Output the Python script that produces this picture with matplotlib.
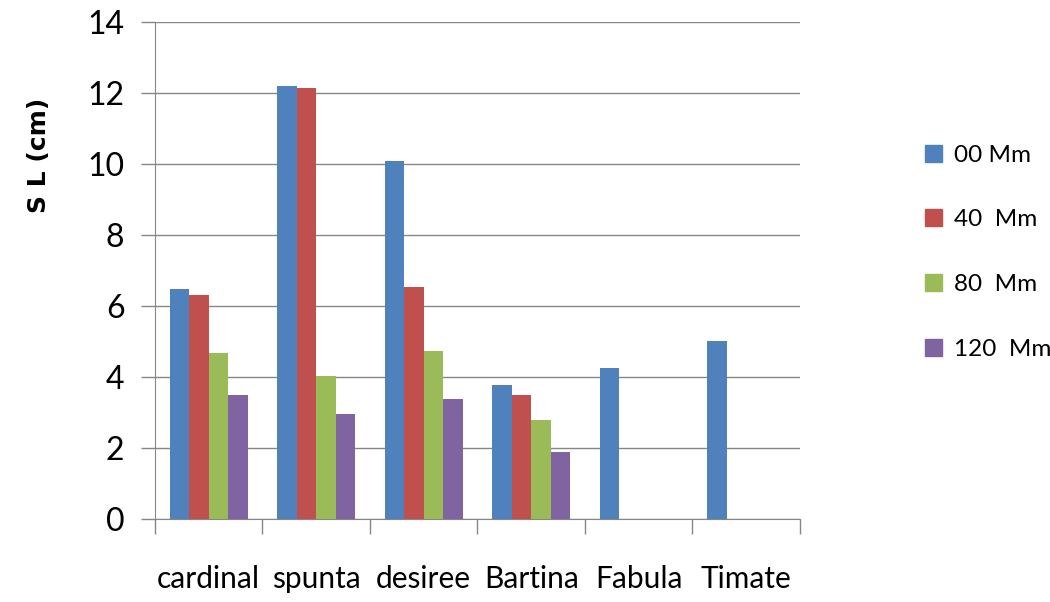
import numpy as np
import matplotlib
matplotlib.use('Agg')
import matplotlib.pyplot as plt
from matplotlib.patches import Patch

# Дані з графіка
categories = ['cardinal', 'spunta', 'desiree', 'Bartina', 'Fabula', 'Timate']
series_names = ['00 Mm', '40  Mm', '80  Mm', '120  Mm']
s00 = [6.48, 12.2, 10.08, 3.77, 4.25, 5.01]
s40 = [6.31, 12.14, 6.54, 3.49, 0, 0]
s80 = [4.68, 4.03, 4.73, 2.79, 0, 0]
s120 = [3.49, 2.96, 3.38, 1.89, 0, 0]
colors = ['#4F81BD', '#C0504D', '#9BBB59', '#8064A2']

plt.rcParams['font.family'] = ['Lato', 'DejaVu Sans']

fig = plt.figure(figsize=(10.5, 6.02), dpi=100)
ax = fig.add_axes([0.1476, 0.138, 0.6143, 0.8255])

x = np.arange(len(categories))
bar_w = 1 / 5.5
data = [s00, s40, s80, s120]
for i, (vals, c) in enumerate(zip(data, colors)):
    ax.bar(x + (i - 1.5) * bar_w, vals, width=bar_w, color=c, zorder=3)

ax.set_xlim(-0.5, len(categories) - 0.5)
ax.set_ylim(0, 14)
ax.set_yticks(range(0, 15, 2))
ax.yaxis.grid(True, color='#868686', linewidth=1.0, zorder=0)

# Мітки категорій через мінорні тики, поділки між групами — мажорні
ax.set_xticks(np.arange(-0.5, len(categories), 1))
ax.set_xticklabels([])
ax.set_xticks(x, minor=True)
ax.set_xticklabels(categories, minor=True, fontsize=21.5)
ax.tick_params(axis='x', which='major', length=11, color='#868686', width=1)
ax.tick_params(axis='x', which='minor', length=0, pad=33)
ax.tick_params(axis='y', length=10, color='#868686', width=1, labelsize=23, pad=12)

for s in ['top', 'right']:
    ax.spines[s].set_visible(False)
for s in ['left', 'bottom']:
    ax.spines[s].set_color('#868686')

fig.text(0.037, 0.742, 'S L (cm)', rotation=90, fontsize=18, fontweight='bold',
         family='DejaVu Sans', ha='center', va='center')

handles = [Patch(color=c) for c in colors]
fig.legend(handles, series_names, loc='center left', bbox_to_anchor=(0.86, 0.581),
           frameon=False, fontsize=17.5, handlelength=0.7, handleheight=0.7,
           labelspacing=1.8, handletextpad=0.5)

fig.savefig('out.png', dpi=100)
